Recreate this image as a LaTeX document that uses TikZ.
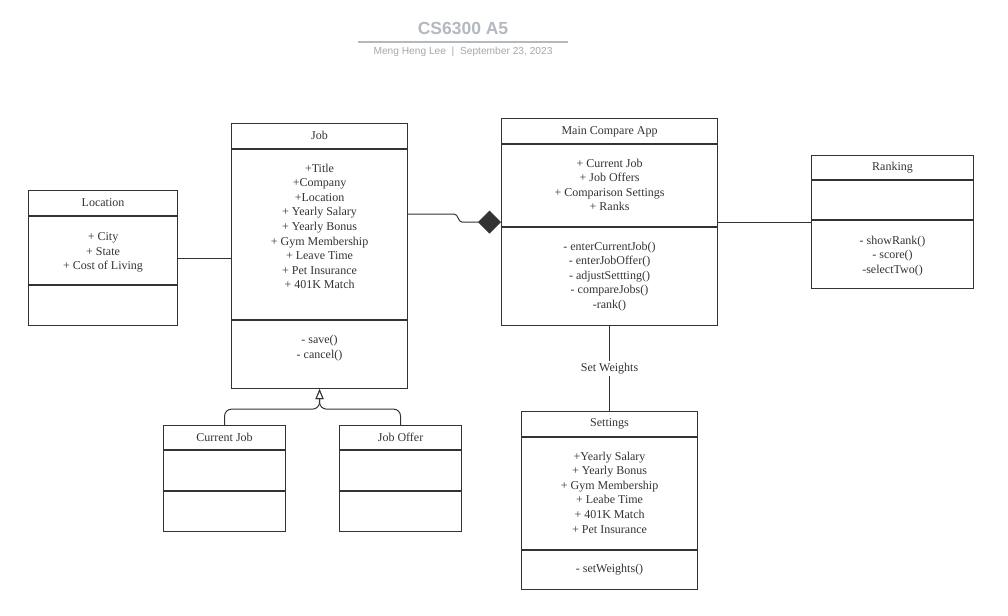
\documentclass[tikz,border=0pt]{standalone}
\usepackage{fontspec}
\setmainfont{Liberation Serif}
\newfontfamily\headfont{Liberation Sans}
\usepackage{tikz}
\usetikzlibrary{arrows.meta,positioning}

\definecolor{ink}{HTML}{333333}
\definecolor{headgray}{HTML}{B4B8BF}
\definecolor{subgray}{HTML}{A3A7AD}

\begin{document}
\begin{tikzpicture}[x=1pt,y=-1pt,
    classbox/.style={draw=ink,line width=1.1pt,anchor=north west,inner sep=0pt},
    divider/.style={draw=ink,line width=1.1pt},
    cname/.style={text=ink,font=\fontsize{12}{14.6}\selectfont,inner sep=0pt,text height=8pt,text depth=2.5pt},
    members/.style={text=ink,font=\fontsize{12}{14.6}\selectfont,align=center,anchor=north,inner sep=0pt},
    link/.style={draw=ink,line width=1pt}]
    \useasboundingbox (0,0) rectangle (1008,615);

    % heading
    \node[text=headgray,font=\headfont\bfseries\fontsize{17.5}{20}\selectfont] (head) at (463,28) {CS6300 A5};
    \draw[headgray,line width=1.5pt] (358,42) -- (568,42);
    \node[text=subgray,font=\headfont\fontsize{10.2}{12}\selectfont] (byline) at (463,52) {Meng Heng Lee~~|~~September 23, 2023};

    % Location
    \node[classbox,minimum width=149pt,minimum height=135pt] (loc) at (28,190) {};
    \draw[divider] ([yshift=-26pt]loc.north west) -- ([yshift=-26pt]loc.north east);
    \draw[divider] ([yshift=-95pt]loc.north west) -- ([yshift=-95pt]loc.north east);
    \node[cname] (locname) at ([yshift=-14pt]loc.north) {Location};
    \node[members] (locattr) at ([yshift=-42.5pt]loc.north) {+ City\\+ State\\+ Cost of Living};

    % Job
    \node[classbox,minimum width=176pt,minimum height=265pt] (job) at (231,123) {};
    \draw[divider] ([yshift=-26pt]job.north west) -- ([yshift=-26pt]job.north east);
    \draw[divider] ([yshift=-197pt]job.north west) -- ([yshift=-197pt]job.north east);
    \node[cname] (jobname) at ([yshift=-13.5pt]job.north) {Job};
    \node[members] (jobattr) at ([yshift=-40.5pt]job.north) {+Title\\+Company\\+Location\\+ Yearly Salary\\+ Yearly Bonus\\+ Gym Membership\\+ Leave Time\\+ Pet Insurance\\+ 401K Match};
    \node[members] (jobmeth) at ([yshift=-212pt]job.north) {- save()\\- cancel()};

    % Main Compare App
    \node[classbox,minimum width=216pt,minimum height=207pt] (app) at (501,118) {};
    \draw[divider] ([yshift=-26pt]app.north west) -- ([yshift=-26pt]app.north east);
    \draw[divider] ([yshift=-109pt]app.north west) -- ([yshift=-109pt]app.north east);
    \node[cname] (appname) at ([yshift=-13.5pt]app.north) {Main Compare App};
    \node[members] (appattr) at ([yshift=-40.5pt]app.north) {+ Current Job\\+ Job Offers\\+ Comparison Settings\\+ Ranks};
    \node[members] (appmeth) at ([yshift=-123.5pt]app.north) {- enterCurrentJob()\\- enterJobOffer()\\- adjustSettting()\\- compareJobs()\\-rank()};

    % Ranking
    \node[classbox,minimum width=162pt,minimum height=133pt] (rank) at (811,155) {};
    \draw[divider] ([yshift=-25pt]rank.north west) -- ([yshift=-25pt]rank.north east);
    \draw[divider] ([yshift=-65pt]rank.north west) -- ([yshift=-65pt]rank.north east);
    \node[cname] (rankname) at ([yshift=-12.5pt]rank.north) {Ranking};
    \node[members] (rankmeth) at ([yshift=-80.5pt]rank.north) {- showRank()\\- score()\\-selectTwo()};

    % Current Job / Job Offer
    \node[classbox,minimum width=122pt,minimum height=106pt] (cur) at (163,425) {};
    \draw[divider] ([yshift=-25pt]cur.north west) -- ([yshift=-25pt]cur.north east);
    \draw[divider] ([yshift=-66pt]cur.north west) -- ([yshift=-66pt]cur.north east);
    \node[cname] (curname) at ([yshift=-13.5pt]cur.north) {Current Job};

    \node[classbox,minimum width=122pt,minimum height=106pt] (offer) at (339,425) {};
    \draw[divider] ([yshift=-25pt]offer.north west) -- ([yshift=-25pt]offer.north east);
    \draw[divider] ([yshift=-66pt]offer.north west) -- ([yshift=-66pt]offer.north east);
    \node[cname] (offername) at ([yshift=-13.5pt]offer.north) {Job Offer};

    % Settings
    \node[classbox,minimum width=176pt,minimum height=178pt] (set) at (521,411) {};
    \draw[divider] ([yshift=-26pt]set.north west) -- ([yshift=-26pt]set.north east);
    \draw[divider] ([yshift=-139pt]set.north west) -- ([yshift=-139pt]set.north east);
    \node[cname] (setname) at ([yshift=-13pt]set.north) {Settings};
    \node[members] (setattr) at ([yshift=-40.5pt]set.north) {+Yearly Salary\\+ Yearly Bonus\\+ Gym Membership\\+ Leabe Time\\+ 401K Match\\+ Pet Insurance};
    \node[members] (setmeth) at ([yshift=-152.5pt]set.north) {- setWeights()};

    % connectors
    \draw[link] (loc.east) -- (loc.east -| job.west);
    \draw[link,-{Diamond[fill=ink,length=23pt,width=23pt]}] ([yshift=-91pt]job.north east) -- ++(46,0) to[out=0,in=180] ++(8,8) -- (app.west);
    \draw[link] (app.east) -- (app.east -| rank.west);
    \draw[link] (app.south) -- node[fill=white,text=ink,font=\fontsize{12}{14}\selectfont,inner sep=2pt] (weights) {Set Weights} (set.north);
    \coordinate (gen) at ([yshift=-20pt]job.south);
    \draw[link,rounded corners=7pt,-{Triangle[open,fill=white,length=10pt,width=8pt]}] (cur.north) |- (gen) -- (job.south);
    \draw[link,rounded corners=7pt,-{Triangle[open,fill=white,length=10pt,width=8pt]}] (offer.north) |- (gen) -- (job.south);

\end{tikzpicture}
\end{document}
